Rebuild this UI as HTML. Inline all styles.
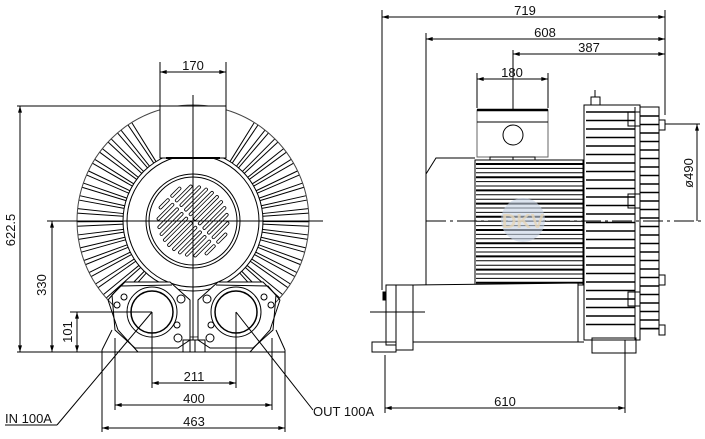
<!DOCTYPE html>
<html><head><meta charset="utf-8"><style>
html,body{margin:0;padding:0;background:#fff;}
svg{display:block;}
text{font-family:"Liberation Sans",sans-serif;font-size:13px;fill:#111;}
</style></head><body>
<svg id="s" width="705" height="439" viewBox="0 0 705 439" xmlns="http://www.w3.org/2000/svg" stroke="#000" fill="none" stroke-width="1">
<defs>
<marker id="a" viewBox="0 0 10 6" refX="10" refY="3" markerWidth="8" markerHeight="4" orient="auto-start-reverse"><path d="M0,0 L10,3 L0,6 z" fill="#000" stroke="none"/></marker>
</defs>
<!-- ===== LEFT VIEW ===== -->
<g id="fins"></g>
<circle cx="193" cy="221" r="116" stroke="#444"/>
<circle cx="193" cy="221" r="70"/>
<circle cx="193" cy="221" r="66" fill="#fff"/>
<circle cx="193" cy="221" r="47"/>
<circle cx="193" cy="221" r="44"/>
<g id="slots"></g>
<rect x="160" y="106" width="66" height="52" fill="#fff"/>
<line x1="166" y1="158" x2="220" y2="158" stroke-width="2"/>
<!-- ports -->
<path d="M112,295 L125,282 L170,282 L190,300 L190,340 L178,348 L135,348 L115,330 Z" fill="#fff"/>
<path d="M276,295 L263,282 L218,282 L198,300 L198,340 L210,348 L253,348 L273,330 Z" fill="#fff"/>
<path d="M108,300 L120,286 L172,285 M108,300 L118,330 L138,352 M280,300 L268,286 L216,285 M280,300 L270,330 L250,352"/>
<circle cx="152" cy="312" r="25"/><circle cx="152" cy="312" r="21" stroke-width="1.5"/>
<circle cx="236" cy="312" r="25"/><circle cx="236" cy="312" r="21" stroke-width="1.5"/>
<circle cx="124" cy="297" r="3"/><circle cx="181" cy="299" r="4"/><circle cx="177" cy="325" r="3"/><circle cx="178" cy="338" r="4"/>
<circle cx="264" cy="297" r="3"/><circle cx="207" cy="299" r="4"/><circle cx="211" cy="325" r="3"/><circle cx="210" cy="338" r="4"/>
<circle cx="117" cy="305" r="3"/><circle cx="271" cy="305" r="3"/>
<rect x="183" y="340" width="22" height="12"/><line x1="190" y1="340" x2="190" y2="352"/><line x1="195" y1="340" x2="195" y2="352"/>
<!-- center lines -->
<line x1="193" y1="95" x2="193" y2="340"/>
<line x1="47" y1="221" x2="323" y2="221"/>
<!-- dims left -->
<line x1="160" y1="62" x2="160" y2="106"/><line x1="226" y1="62" x2="226" y2="106"/>
<line x1="160" y1="72" x2="226" y2="72" marker-start="url(#a)" marker-end="url(#a)"/>
<text x="193" y="70" text-anchor="middle" stroke="none">170</text>
<line x1="17" y1="106" x2="200" y2="106"/>
<line x1="17" y1="352" x2="285" y2="352"/>
<line x1="20" y1="106" x2="20" y2="352" marker-start="url(#a)" marker-end="url(#a)"/>
<text transform="translate(15,230) rotate(-90)" text-anchor="middle" stroke="none">622.5</text>
<line x1="52" y1="221" x2="52" y2="352" marker-start="url(#a)" marker-end="url(#a)"/>
<text transform="translate(46,285) rotate(-90)" text-anchor="middle" stroke="none">330</text>
<line x1="70" y1="312" x2="152" y2="312"/>
<line x1="77" y1="312" x2="77" y2="352" marker-start="url(#a)" marker-end="url(#a)"/>
<text transform="translate(72,332) rotate(-90)" text-anchor="middle" stroke="none">101</text>
<line x1="152" y1="312" x2="152" y2="388"/><line x1="236" y1="312" x2="236" y2="388"/>
<line x1="152" y1="383" x2="236" y2="383" marker-start="url(#a)" marker-end="url(#a)"/>
<text x="194" y="381" text-anchor="middle" stroke="none">211</text>
<line x1="115" y1="338" x2="115" y2="410"/><line x1="272" y1="338" x2="272" y2="410"/>
<line x1="115" y1="405" x2="272" y2="405" marker-start="url(#a)" marker-end="url(#a)"/>
<text x="194" y="403" text-anchor="middle" stroke="none">400</text>
<line x1="102" y1="350" x2="102" y2="432"/><line x1="285" y1="350" x2="285" y2="432"/>
<line x1="102" y1="428" x2="285" y2="428" marker-start="url(#a)" marker-end="url(#a)"/>
<text x="194" y="426" text-anchor="middle" stroke="none">463</text>
<line x1="102" y1="350" x2="112" y2="330"/><line x1="285" y1="350" x2="276" y2="330"/>
<text x="5" y="423" stroke="none">IN  100A</text>
<line x1="5" y1="425" x2="57" y2="425"/><line x1="57" y1="425" x2="152" y2="312"/>
<text x="313" y="416" stroke="none">OUT  100A</text>
<line x1="313" y1="410" x2="236" y2="312"/>
<!-- ===== RIGHT VIEW ===== -->
<line x1="382" y1="10" x2="382" y2="290"/>
<line x1="426" y1="33" x2="426" y2="285"/>
<line x1="513" y1="50" x2="513" y2="160"/>
<line x1="665" y1="10" x2="665" y2="115"/>
<line x1="382" y1="17" x2="665" y2="17" marker-start="url(#a)" marker-end="url(#a)"/>
<text x="525" y="15" text-anchor="middle" stroke="none">719</text>
<line x1="426" y1="39" x2="665" y2="39" marker-start="url(#a)" marker-end="url(#a)"/>
<text x="545" y="37" text-anchor="middle" stroke="none">608</text>
<line x1="513" y1="54" x2="665" y2="54" marker-start="url(#a)" marker-end="url(#a)"/>
<text x="589" y="52" text-anchor="middle" stroke="none">387</text>
<line x1="477" y1="73" x2="477" y2="108"/><line x1="548" y1="73" x2="548" y2="108"/>
<line x1="477" y1="79" x2="548" y2="79" marker-start="url(#a)" marker-end="url(#a)"/>
<text x="512" y="77" text-anchor="middle" stroke="none">180</text>
<!-- terminal box -->
<rect x="477" y="110" width="71" height="47" fill="#fff" stroke="#666"/>
<line x1="477" y1="110" x2="548" y2="110" stroke-width="2.5"/>
<line x1="477" y1="122" x2="548" y2="122"/>
<circle cx="513" cy="135" r="10"/>
<rect x="490" y="157" width="45" height="3"/>
<path d="M426,174 L436,158 L475,158"/>
<!-- motor body -->
<rect x="475" y="160" width="108" height="125" fill="#fff"/>
<g id="mfins"></g>
<!-- housing -->
<rect x="584" y="105" width="56" height="235" fill="#fff"/>
<g id="hfins"></g>
<line x1="635" y1="107" x2="635" y2="340"/>
<rect x="640" y="107" width="19" height="222" fill="none"/>
<rect x="591" y="97" width="9" height="8"/><line x1="595" y1="90" x2="595" y2="97"/>
<rect x="628" y="112" width="12" height="14"/><rect x="628" y="194" width="12" height="14"/><rect x="628" y="292" width="12" height="14"/>
<rect x="659" y="120" width="6" height="10"/><rect x="659" y="275" width="6" height="10"/><rect x="659" y="325" width="6" height="10"/>
<rect x="592" y="338" width="44" height="15"/>
<!-- pipe -->
<path d="M413,285 L578,283 L578,342 L413,342" fill="#fff"/>
<line x1="578" y1="283" x2="584" y2="283"/><line x1="578" y1="342" x2="584" y2="342"/>
<rect x="396" y="285" width="17" height="65" fill="#fff"/>
<rect x="386" y="285" width="10" height="60" fill="#fff"/>
<rect x="383" y="292" width="3" height="8" fill="#000"/>
<rect x="372" y="342" width="24" height="10"/>
<line x1="370" y1="312" x2="425" y2="312"/>
<!-- center line right -->
<line x1="426" y1="221" x2="705" y2="221" stroke-dasharray="20,4,3,4"/>
<!-- Ø490 -->
<line x1="665" y1="124" x2="700" y2="124"/>
<line x1="697" y1="124" x2="697" y2="221" marker-start="url(#a)"/>
<text transform="translate(693,173) rotate(-90)" text-anchor="middle" stroke="none">ø490</text>
<!-- 610 -->
<line x1="385" y1="355" x2="385" y2="413"/><line x1="625" y1="340" x2="625" y2="413"/>
<line x1="385" y1="408" x2="625" y2="408" marker-start="url(#a)" marker-end="url(#a)"/>
<text x="505" y="406" text-anchor="middle" stroke="none">610</text>
<!-- watermark -->
<circle cx="523" cy="220" r="22" fill="#c7d3e6" stroke="none" opacity="0.6"/>
<text x="523" y="228" text-anchor="middle" stroke="none" style="font-size:20px;font-weight:bold;fill:#e7d7b8;opacity:0.8">DKV</text>
</svg>
<script>
var NS="http://www.w3.org/2000/svg";
function L(g,x1,y1,x2,y2,w){var l=document.createElementNS(NS,"line");l.setAttribute("x1",x1);l.setAttribute("y1",y1);l.setAttribute("x2",x2);l.setAttribute("y2",y2);if(w)l.setAttribute("stroke-width",w);g.appendChild(l);return l;}
var f=document.getElementById("fins"),cx=193,cy=221;
for(var side=-1;side<=1;side+=2){
 for(var a=33;a<=140;a+=6.5){
  for(var d=-1.1;d<=1.2;d+=2.2){
   var t=(a+d)*Math.PI/180;var s=Math.sin(t)*side,c=-Math.cos(t);
   L(f,cx+s*70,cy+c*70,cx+s*116,cy+c*116);
  }
 }
}
var sl=document.getElementById("slots");
for(var k=-5;k<=5;k++){
 var off=k*6.5;var half=Math.sqrt(Math.max(0,36*36-off*off));
 for(var seg=-1;seg<=1;seg+=2){
  var p0=seg>0?3:-half+2,p1=seg>0?half-2:-3;
  if(p1-p0<4)continue;
  var ux=Math.SQRT1_2,uy=-Math.SQRT1_2,nx=Math.SQRT1_2,ny=Math.SQRT1_2;
  var x1=cx+nx*off+ux*p0,y1=cy+ny*off+uy*p0,x2=cx+nx*off+ux*p1,y2=cy+ny*off+uy*p1;
  var e=L(sl,x1,y1,x2,y2,3.6);e.setAttribute("stroke-linecap","round");
  var e2=L(sl,x1,y1,x2,y2,2);e2.setAttribute("stroke","#fff");e2.setAttribute("stroke-linecap","round");
 }
}
var m=document.getElementById("mfins");
for(var y=164,n=0;y<284;y+=4.4,n++){L(m,476,y,583,y,(n%3==0)?2:1);}
var h=document.getElementById("hfins");
for(var y=112,n=0;y<330;y+=8.5,n++){L(h,586,y,635,y,1.6);L(h,640,y+4,659,y+4,1.6);}
</script>
</body></html>
